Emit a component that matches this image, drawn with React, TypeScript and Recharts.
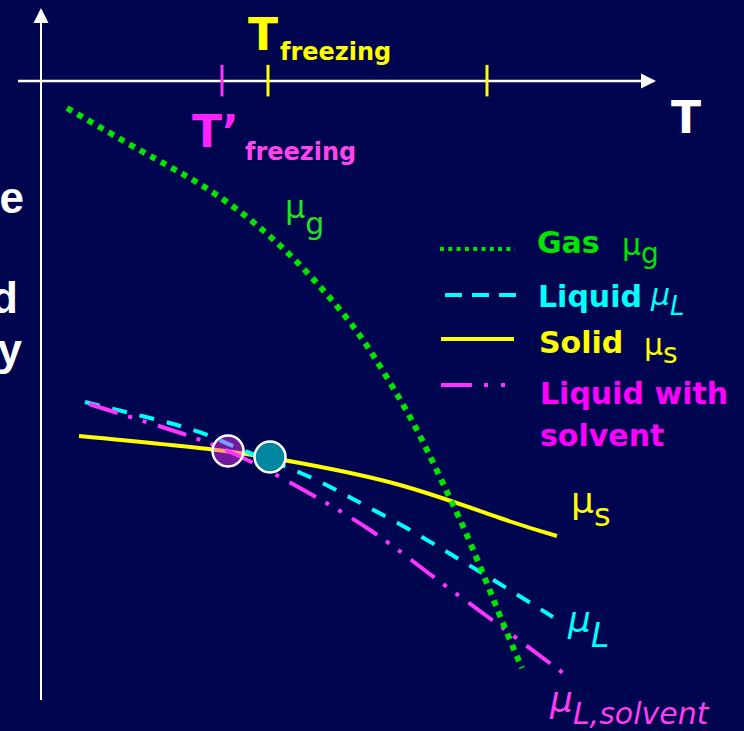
import React from 'react';
import { ComposedChart, Line, XAxis, YAxis, ReferenceLine, ReferenceDot, Scatter } from 'recharts';

// Temperature (x) and chemical potential (y)
const gasT = [4.23, 16.59, 24.72, 32.85, 41.63, 49.43, 53.98, 58.05, 61.79, 66.02, 70.08, 75.12, 78.21];
const gasMu = [-3.86, -10.14, -14.14, -19.0, -25.86, -33.57, -39.14, -45.0, -51.0, -58.71, -66.57, -77.43, -83.86];

const liquidT = [7.15, 17.07, 25.69, 33.17, 42.6, 50.73, 58.86, 66.83, 74.63, 83.25];
const liquidMu = [-45.86, -48.0, -50.14, -52.86, -56.14, -59.71, -63.57, -67.71, -71.86, -76.57];

const solidT = [6.18, 28.62, 42.11, 58.37, 74.63, 83.9];
const solidMu = [-50.71, -52.71, -54.57, -57.71, -62.43, -65.0];

const solventT = [7.8, 19.67, 30.41, 42.11, 53.5, 62.76, 72.68, 84.88];
const solventMu = [-46.14, -49.43, -52.86, -58.14, -64.14, -70.14, -76.57, -84.57];

const freezeSolventPt = [{ x: 30.41, y: -52.86 }];
const freezePurePt = [{ x: 37.24, y: -53.71 }];

const tickT = [29.43, 36.91, 72.52];
const tickLabels = ['T’', 'T', 'T'];

const xDomain: [number, number] = [0, 100];
const yDomain: [number, number] = [-88, 10];

const toPts = (xs: number[], ys: number[]) => xs.map((x, i) => ({ x, y: ys[i] }));

const BG = '#000550';
const GREEN = '#00e400';
const CYAN = '#00ffff';
const YELLOW = '#ffff00';
const MAGENTA = '#ff33ff';
const FONT = '"DejaVu Sans", sans-serif';

const ArrowUp = (p: any) => (
  <polygon points={`${p.cx},${p.cy} ${p.cx - 7.5},${p.cy + 15} ${p.cx + 7.5},${p.cy + 15}`} fill="#ffffff" />
);
const ArrowRight = (p: any) => (
  <polygon points={`${p.cx},${p.cy} ${p.cx - 15},${p.cy - 7.5} ${p.cx - 15},${p.cy + 7.5}`} fill="#ffffff" />
);

const Legend = () => (
  <g fontFamily={FONT}>
    <line x1={440} y1={249} x2={515} y2={249} stroke={GREEN} strokeWidth={4} strokeDasharray="4 4.3" />
    <text x={537} y={253} fill={GREEN} fontSize={30} fontWeight="bold">Gas</text>
    <text x={622} y={255} fill={GREEN} fontSize={30}>μ<tspan fontSize={28} dy={8}>g</tspan></text>

    <line x1={445} y1={295} x2={517} y2={295} stroke={CYAN} strokeWidth={4} strokeDasharray="17 10" />
    <text x={538} y={307} fill={CYAN} fontSize={30} fontWeight="bold">Liquid</text>
    <text x={651} y={305} fill={CYAN} fontSize={30} fontStyle="italic">μ<tspan fontSize={26} dy={10}>L</tspan></text>

    <line x1={441} y1={339} x2={514} y2={339} stroke={YELLOW} strokeWidth={4} />
    <text x={539} y={353} fill={YELLOW} fontSize={30} fontWeight="bold">Solid</text>
    <text x={644} y={355} fill={YELLOW} fontSize={30}>μ<tspan fontSize={28} dy={8}>s</tspan></text>

    <line x1={441} y1={385} x2={510} y2={385} stroke={MAGENTA} strokeWidth={4} strokeDasharray="31 12 4 13 4 100" />
    <text x={540} y={404} fill="#ff00ff" fontSize={30} fontWeight="bold">Liquid with</text>
    <text x={540} y={446} fill="#ff00ff" fontSize={30} fontWeight="bold">solvent</text>
  </g>
);

const Labels = () => (
  <g fontFamily={FONT}>
    <text x={248} y={50} fill={YELLOW} fontSize={44} fontWeight="bold">{tickLabels[1]}</text>
    <text x={280} y={60} fill={YELLOW} fontSize={24} fontWeight="bold">freezing</text>
    <text x={192} y={147} fill="#ff22ff" fontSize={44} fontWeight="bold">{tickLabels[0]}</text>
    <text x={245} y={160} fill="#ff44ee" fontSize={24} fontWeight="bold">freezing</text>
    <text x={671} y={133} fill="#ffffff" fontSize={44} fontWeight="bold">{tickLabels[2]}</text>

    <text x={24} y={213} fill="#ffffff" fontSize={44} fontWeight="bold" fontFamily='"Liberation Sans", Arial' textAnchor="end">e</text>
    <text x={18} y={313} fill="#ffffff" fontSize={44} fontWeight="bold" fontFamily='"Liberation Sans", Arial' textAnchor="end">d</text>
    <text x={22} y={365} fill="#ffffff" fontSize={44} fontWeight="bold" fontFamily='"Liberation Sans", Arial' textAnchor="end">y</text>

    <text x={285} y={218} fill="#22e022" fontSize={32}>μ<tspan fontSize={30} dy={16}>g</tspan></text>
    <text x={571} y={513} fill={YELLOW} fontSize={36}>μ<tspan fontSize={32} dy={13}>s</tspan></text>
    <text x={568} y={632} fill={CYAN} fontSize={36} fontStyle="italic">μ<tspan fontSize={33} dy={15}>L</tspan></text>
    <text x={550} y={712} fill="#ff3cf0" fontSize={36} fontStyle="italic">μ<tspan fontSize={30} dy={12}>L,solvent</tspan></text>
  </g>
);

export default function App() {
  return (
    <div style={{ position: 'absolute', left: 0, top: 0, width: 744, height: 731, background: BG, overflow: 'hidden' }}>
      <ComposedChart width={744} height={731} margin={{ top: 11, right: 88, bottom: 34, left: 41 }}>
        <XAxis type="number" dataKey="x" domain={xDomain} allowDataOverflow hide />
        <YAxis type="number" dataKey="y" domain={yDomain} allowDataOverflow hide />

        <ReferenceLine segment={[{ x: 0, y: -88.43 }, { x: 0, y: 8.3 }]} stroke="#ffffff" strokeWidth={2} ifOverflow="visible" />
        <ReferenceDot x={0} y={10.43} r={1} ifOverflow="visible" shape={ArrowUp} />
        <ReferenceLine segment={[{ x: -3.74, y: 0 }, { x: 97.6, y: 0 }]} stroke="#ffffff" strokeWidth={2.5} ifOverflow="visible" />
        <ReferenceDot x={100} y={0} r={1} ifOverflow="visible" shape={ArrowRight} />

        <ReferenceLine segment={[{ x: tickT[0], y: 2.3 }, { x: tickT[0], y: -2.2 }]} stroke="#ff33ff" strokeWidth={3} ifOverflow="visible" />
        <ReferenceLine segment={[{ x: tickT[1], y: 2.3 }, { x: tickT[1], y: -2.2 }]} stroke={YELLOW} strokeWidth={3} ifOverflow="visible" />
        <ReferenceLine segment={[{ x: tickT[2], y: 2.3 }, { x: tickT[2], y: -2.2 }]} stroke={YELLOW} strokeWidth={3} ifOverflow="visible" />

        <Scatter data={freezePurePt} dataKey="y" isAnimationActive={false}
          shape={(p: any) => <circle cx={p.cx} cy={p.cy} r={15.5} fill="#00879f" stroke="#ffffff" strokeWidth={2.5} />} />

        <Line data={toPts(solidT, solidMu)} dataKey="y" type="natural" stroke={YELLOW} strokeWidth={4} dot={false} isAnimationActive={false} />
        <Line data={toPts(liquidT, liquidMu)} dataKey="y" type="natural" stroke={CYAN} strokeWidth={4} strokeDasharray="15 13" dot={false} isAnimationActive={false} />
        <Line data={toPts(solventT, solventMu)} dataKey="y" type="natural" stroke={MAGENTA} strokeWidth={4} strokeDasharray="30 11 4 11 4 12" dot={false} isAnimationActive={false} />
        <Line data={toPts(gasT, gasMu)} dataKey="y" type="natural" stroke={GREEN} strokeWidth={6} strokeDasharray="6 6" dot={false} isAnimationActive={false} />

        <Scatter data={freezeSolventPt} dataKey="y" isAnimationActive={false}
          shape={(p: any) => <circle cx={p.cx} cy={p.cy} r={15.5} fill="#ff33ff" fillOpacity={0.45} stroke="#ffffff" strokeWidth={2.5} />} />

        <Labels />
        <Legend />
      </ComposedChart>
    </div>
  );
}
